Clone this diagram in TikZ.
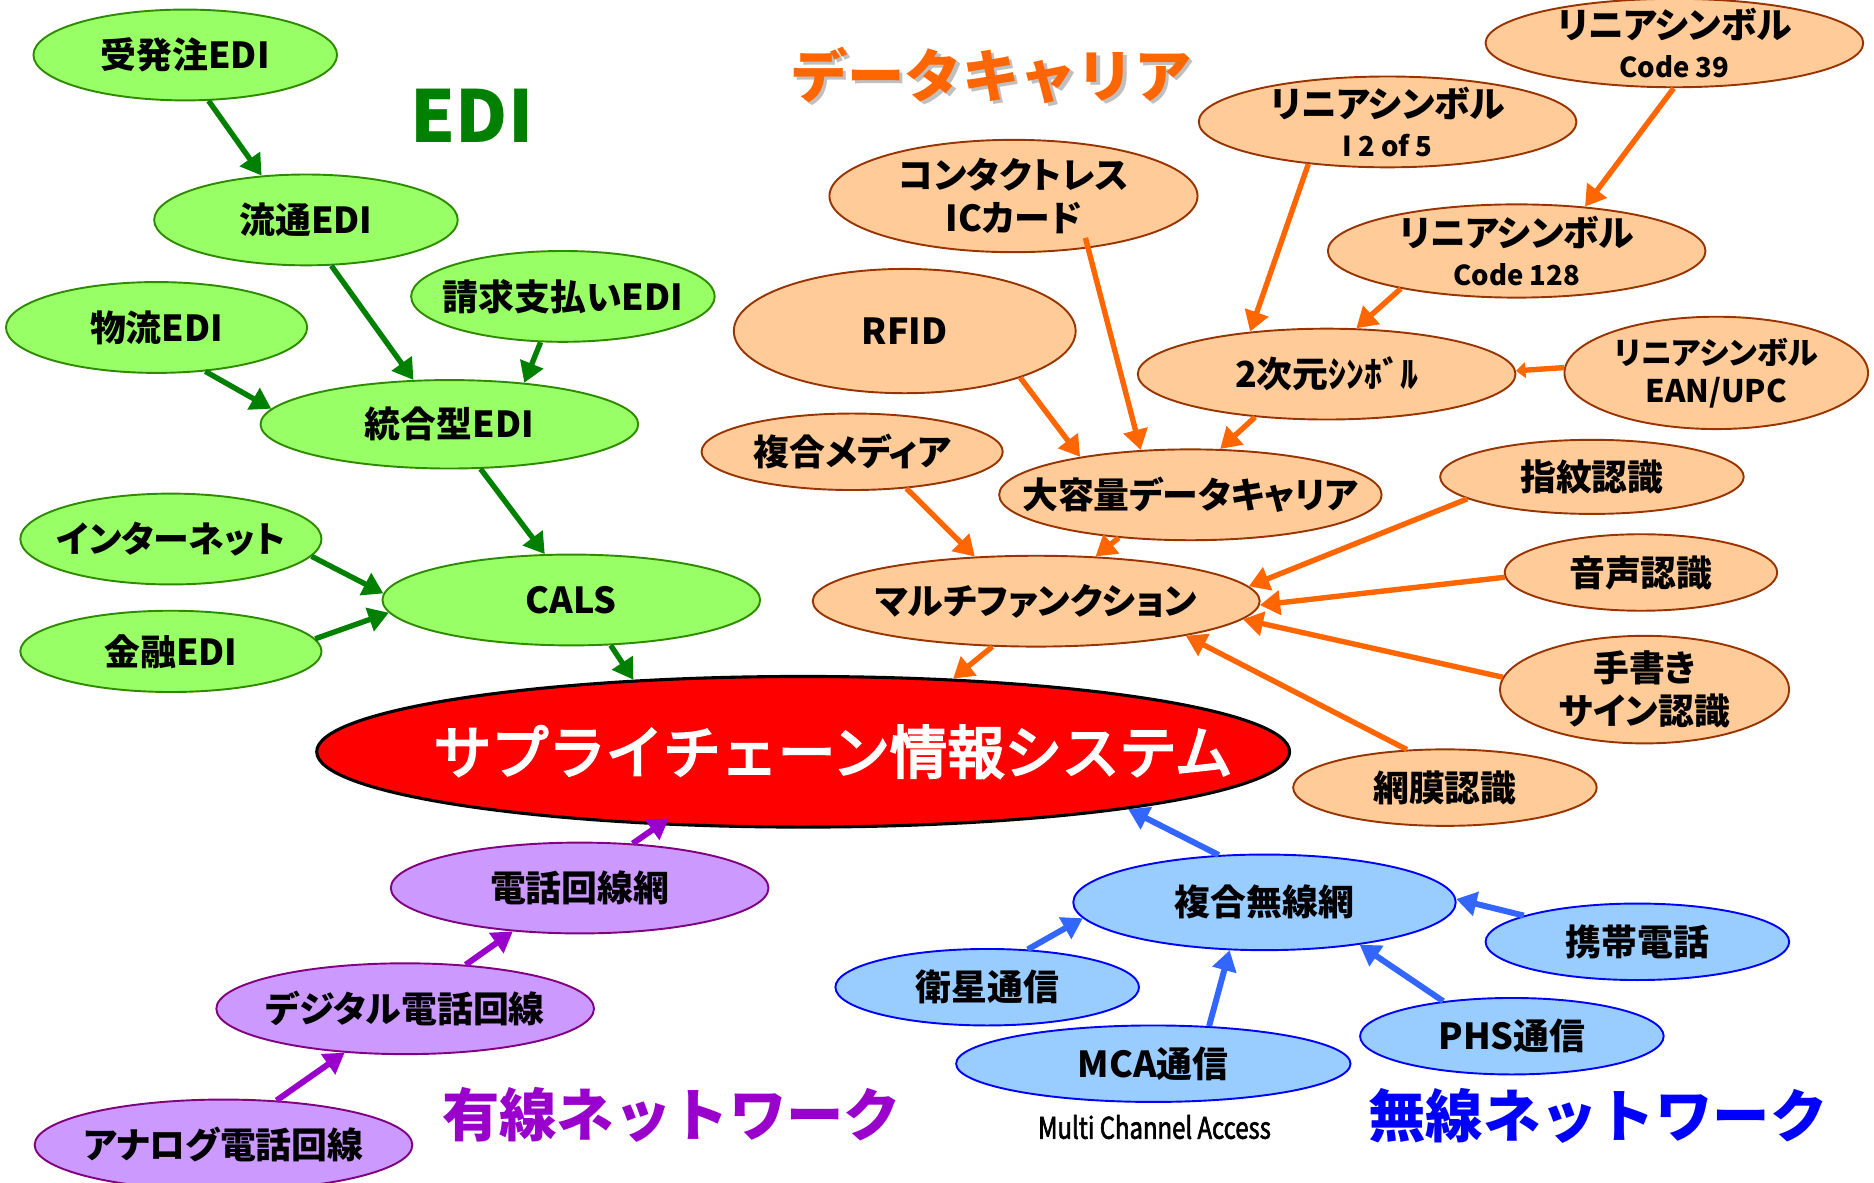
\documentclass[tikz,border=0pt]{standalone}
\usepackage{fontspec}
\usetikzlibrary{shapes.geometric,arrows.meta}
\newfontfamily\jp[RawFeature=+palt]{Noto Sans CJK JP}
\newfontfamily\jpt{Noto Sans CJK JP}
\newfontfamily\jpm[FakeBold=4]{Noto Sans CJK JP}
\newfontfamily\jpn[FakeStretch=0.8,FakeBold=2]{Noto Sans CJK JP}
\definecolor{gfill}{HTML}{99FF66}
\definecolor{gline}{HTML}{2E8B00}
\definecolor{garr}{HTML}{008000}
\definecolor{ofill}{HTML}{FFCC99}
\definecolor{oline}{HTML}{993300}
\definecolor{oarr}{HTML}{FF6600}
\definecolor{pfill}{HTML}{CC99FF}
\definecolor{pline}{HTML}{800080}
\definecolor{parr}{HTML}{9900CC}
\definecolor{bfill}{HTML}{99CCFF}
\definecolor{bline}{HTML}{0000FF}
\definecolor{barr}{HTML}{3366FF}
\newcommand{\smline}[1]{{\fontsize{23}{28}\selectfont #1}}
\tikzset{
  base/.style={ellipse, inner sep=-60pt, align=center, line width=1.6pt,
    font=\jp\bfseries\fontsize{30}{36}\selectfont},
  gnode/.style={base, fill=gfill, draw=gline},
  onode/.style={base, fill=ofill, draw=oline},
  pnode/.style={base, fill=pfill, draw=pline},
  bnode/.style={base, fill=bfill, draw=bline},
  sz/.style 2 args={minimum width=#1pt, minimum height=#2pt},
  arr/.style={line width=4.5pt, -{Triangle[length=17pt,width=20pt]}},
  garrow/.style={arr, draw=garr},
  oarrow/.style={arr, draw=oarr},
  parrow/.style={arr, draw=parr, line width=5pt},
  barrow/.style={arr, draw=barr, line width=5pt},
  title/.style={font=\jpt\bfseries\fontsize{48}{52}\selectfont, inner sep=0pt}
}
\begin{document}
\begin{tikzpicture}[x=1pt,y=-1pt]
\fill[white] (0,0) rectangle (1568,989);
\useasboundingbox (0,0) rectangle (1568,989);

% ---- green (EDI) ----
\node[gnode,sz={254}{76}] (juhatchu) at (155,46) {受発注EDI};
\node[gnode,sz={254}{76}] (ryutsu) at (256,184) {流通EDI};
\node[gnode,sz={254}{76}] (seikyu) at (471,248) {請求支払いEDI};
\node[gnode,sz={252}{76}] (butsuryu) at (131,274) {物流EDI};
\node[gnode,sz={316}{74}] (togo) at (376,355) {統合型EDI};
\node[gnode,sz={252}{76}] (internet) at (143,451) {インターネット};
\node[gnode,sz={252}{68}] (kinyu) at (143,545) {金融EDI};
\node[gnode,sz={316}{76}] (cals) at (478,502) {CALS};

% ---- main ----
\node[ellipse, fill=red, draw=black, line width=2.6pt, inner sep=-80pt,
      sz={814}{126}, text=white, font=\jpm\fontsize{48}{56}\selectfont]
      (scm) at (672,629) {\hspace*{50pt}サプライチェーン情報システム};

% ---- orange (data carrier) ----
\node[onode,sz={316}{74}] (code39) at (1401,36) {リニアシンボル\\[-3pt]\smline{Code 39}};
\node[onode,sz={316}{76}] (i2of5) at (1161,102) {リニアシンボル\\[-3pt]\smline{I 2 of 5}};
\node[onode,sz={308}{94}] (contact) at (848,164) {コンタクトレス\\ICカード};
\node[onode,sz={316}{78}] (code128) at (1269,210) {リニアシンボル\\[-3pt]\smline{Code 128}};
\node[onode,sz={286}{104}] (rfid) at (757,277) {RFID};
\node[onode,sz={316}{76}] (nijigen) at (1110,313) {2次元ｼﾝﾎﾞﾙ};
\node[onode,sz={254}{94},font=\jp\bfseries\fontsize{26}{32}\selectfont] (ean) at (1436,312) {リニアシンボル\\EAN/UPC};
\node[onode,sz={252}{64}] (fukugo) at (713,378) {複合メディア};
\node[onode,sz={320}{76}] (daiyoryo) at (996,414) {大容量データキャリア};
\node[onode,sz={374}{76}] (multi) at (867,503) {マルチファンクション};
\node[onode,sz={254}{62}] (shimon) at (1332,399) {指紋認識};
\node[onode,sz={228}{64}] (onsei) at (1373,479) {音声認識};
\node[onode,sz={242}{90}] (tegaki) at (1376,577) {手書き\\サイン認識};
\node[onode,sz={254}{64}] (momaku) at (1209,659) {網膜認識};

% ---- blue (wireless) ----
\node[bnode,sz={320}{80}] (fukumusen) at (1058,755) {複合無線網};
\node[bnode,sz={254}{64}] (keitai) at (1370,788) {携帯電話};
\node[bnode,sz={254}{64}] (eisei) at (826,826) {衛星通信};
\node[bnode,sz={330}{64}] (mca) at (965,890) {MCA通信};
\node[bnode,sz={254}{64}] (phs) at (1265,867) {PHS通信};

% ---- purple (wired) ----
\node[pnode,sz={316}{76}] (denwa) at (485,743) {電話回線網};
\node[pnode,sz={316}{76}] (digital) at (339,844) {デジタル電話回線};
\node[pnode,sz={316}{76}] (analog) at (187,958) {アナログ電話回線};

% ---- titles ----
\node[title, font=\jpt\bfseries\fontsize{60}{64}\selectfont, text=garr] (tedi) at (395,97) {EDI};
\node[title, text=black!25] (tdatash) at (832,66) {データキャリア};
\node[title, text=oarr] (tdata) at (829,63) {データキャリア};
\node[title, text=parr] (twired) at (562,933) {有線ネットワーク};
\node[title, text=bline] (twireless) at (1337,934) {無線ネットワーク};
\node[font=\jpn\fontsize{25}{30}\selectfont, inner sep=0pt] (mcafull) at (966,943) {Multi Channel Access};

% ---- green arrows ----
\draw[garrow] (juhatchu.-63) -- (ryutsu.135);
\draw[garrow] (ryutsu.-61) -- (togo.129);
\draw[garrow] (seikyu.-116) -- (togo.29);
\draw[garrow] (butsuryu.-42) -- (togo.175);
\draw[garrow] (togo.-55) -- (cals.120);
\draw[garrow] (internet.-7) -- (cals.178);
\draw[garrow] (kinyu.5) -- (cals.184);
\draw[garrow] (cals.-49) -- (scm.157);

% ---- orange arrows ----
\draw[oarrow] (code39.-91) -- (code128.33);
\draw[oarrow] (i2of5.-152) -- (nijigen.151);
\draw[oarrow] (code128.-162) -- (nijigen.57);
\draw[oarrow, -{Triangle[length=8pt,width=13pt]}] (ean.178) -- (nijigen.1);
\draw[oarrow, shorten <=-9pt] (contact.-35) -- (daiyoryo.138);
\draw[oarrow] (rfid.-22) -- (daiyoryo.161);
\draw[oarrow] (nijigen.-149) -- (daiyoryo.57);
\draw[oarrow] (fukugo.-34) -- (multi.144);
\draw[oarrow] (daiyoryo.-149) -- (multi.37);
\draw[oarrow] (shimon.-170) -- (multi.4);
\draw[oarrow] (onsei.182) -- (multi.-1);
\draw[oarrow] (tegaki.175) -- (multi.-5);
\draw[oarrow] (momaku.135) -- (multi.-13);
\draw[oarrow] (multi.-134) -- (scm.26);

% ---- purple arrows ----
\draw[parrow] (analog.40) -- (digital.-144);
\draw[parrow] (digital.36) -- (denwa.-147);
\draw[parrow, shorten >=-10pt] (denwa.40) -- (scm.-153);

% ---- blue arrows ----
\draw[barrow] (fukumusen.134) -- (scm.-10);
\draw[barrow] (eisei.43) -- (fukumusen.185);
\draw[barrow] (mca.34) -- (fukumusen.-126);
\draw[barrow] (phs.153) -- (fukumusen.-24);
\draw[barrow] (keitai.167) -- (fukumusen.1);
\end{tikzpicture}
\end{document}
